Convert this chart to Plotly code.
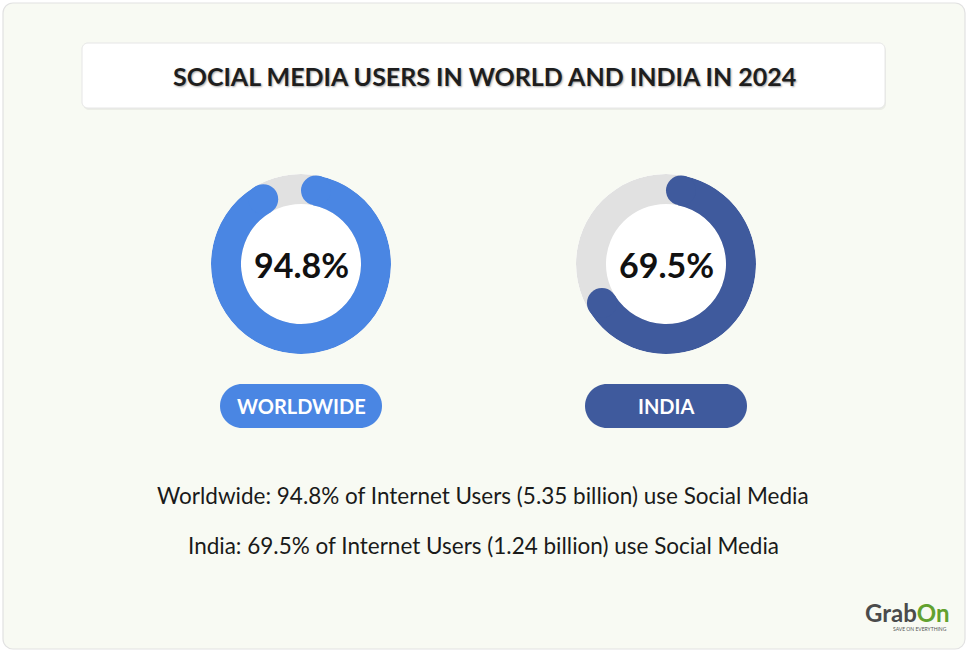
import math
import plotly.graph_objects as go

# ---- data ----
regions = ["WORLDWIDE", "INDIA"]
region_names = ["Worldwide", "India"]
share_pct = [94.8, 69.5]
users_billion = [5.35, 1.24]
arc_colors = ["#4a86e3", "#3f5a9d"]
title_text = "SOCIAL MEDIA USERS IN WORLD AND INDIA IN 2024"

# ---- layout constants (pixels) ----
W, H = 968, 652
centers_x = [301, 666]
center_y = 264
R = 90
HOLE = 0.667
RING_BG = "#e1e1e1"
BG = "#f8faf3"
FONT = "Lato"


def rrect(x0, y0, x1, y1, r):
    k = 0.5523 * r
    return (
        f"M {x0+r},{y0} L {x1-r},{y0} "
        f"C {x1-r+k},{y0} {x1},{y0+r-k} {x1},{y0+r} "
        f"L {x1},{y1-r} "
        f"C {x1},{y1-r+k} {x1-r+k},{y1} {x1-r},{y1} "
        f"L {x0+r},{y1} "
        f"C {x0+r-k},{y1} {x0},{y1-r+k} {x0},{y1-r} "
        f"L {x0},{y0+r} "
        f"C {x0},{y0+r-k} {x0+r-k},{y0} {x0+r},{y0} Z"
    )


fig = go.Figure()

thick = 1 - HOLE
mid = HOLE + thick / 2
cap_ang = math.degrees(math.asin((thick / 2) / mid))

layout_polars = {}
for i, (name, v, col) in enumerate(zip(regions, share_pct, arc_colors)):
    pk = "polar" if i == 0 else f"polar{i+1}"
    cx = centers_x[i]
    layout_polars[pk] = dict(
        domain=dict(x=[(cx - R) / W, (cx + R) / W],
                    y=[1 - (center_y + R) / H, 1 - (center_y - R) / H]),
        bgcolor="white",
        barmode="overlay",
        radialaxis=dict(range=[0, 1], visible=False),
        angularaxis=dict(visible=False, rotation=90, direction="clockwise"),
    )
    # grey track
    fig.add_trace(go.Barpolar(
        r=[thick], base=[HOLE], theta=[180], width=[360],
        marker=dict(color=RING_BG, line=dict(width=0)),
        subplot=pk, hoverinfo="skip", showlegend=False))
    # value arc (rounded ends span exactly the share)
    end_ang = v / 100 * 360
    span = end_ang - 2 * cap_ang
    fig.add_trace(go.Barpolar(
        r=[thick], base=[HOLE], theta=[cap_ang + span / 2], width=[span],
        marker=dict(color=col, line=dict(width=0)),
        subplot=pk, hoverinfo="skip", showlegend=False))
    fig.add_trace(go.Scatterpolar(
        r=[mid, mid], theta=[cap_ang, end_ang - cap_ang], mode="markers",
        marker=dict(size=thick * R, color=col, line=dict(width=0)),
        subplot=pk, hoverinfo="skip", showlegend=False))

shapes = []
annotations = []

# outer card
shapes.append(dict(type="path", path=rrect(3, 3, 965, 649, 10), xref="x", yref="y",
                   fillcolor=BG, line=dict(color="#e2e2e2", width=1.2), layer="below"))
# title box shadow + box
shapes.append(dict(type="path", path=rrect(83, 45, 886, 110, 6), xref="x", yref="y",
                   fillcolor="rgba(0,0,0,0.05)", line=dict(width=0), layer="below"))
shapes.append(dict(type="path", path=rrect(82, 43, 885, 108, 6), xref="x", yref="y",
                   fillcolor="white", line=dict(color="#e6e6e6", width=1), layer="below"))
annotations.append(dict(x=484, y=76, xref="x", yref="y", text=f"<b>{title_text}</b>",
                        showarrow=False,
                        font=dict(family=FONT, size=25, color="#1e1e1e",
                                  shadow="1px 1px 2px rgba(0,0,0,0.35)")))

for i, (name, v, col) in enumerate(zip(regions, share_pct, arc_colors)):
    cx = centers_x[i]
    annotations.append(dict(x=cx, y=center_y, xref="x", yref="y", text=f"<b>{v}%</b>",
                            showarrow=False, font=dict(family=FONT, size=34, color="#111111")))
    shapes.append(dict(type="path", path=rrect(cx - 81, 384, cx + 81, 428, 22), xref="x", yref="y",
                       fillcolor=col, line=dict(width=0), layer="below"))
    annotations.append(dict(x=cx, y=406, xref="x", yref="y", text=f"<b>{name}</b>",
                            showarrow=False, font=dict(family=FONT, size=20, color="white")))

for i, (nm, v, u) in enumerate(zip(region_names, share_pct, users_billion)):
    annotations.append(dict(x=483, y=495 + 50 * i, xref="x", yref="y",
                            text=f"{nm}: {v}% of Internet Users ({u} billion) use Social Media",
                            showarrow=False, font=dict(family=FONT, size=22.5, color="#1a1a1a")))

# logo
annotations.append(dict(x=952, y=612, xref="x", yref="y", xanchor="right",
                        text="<b><span style='color:#4b4b4b'>Grab</span><span style='color:#62a12f'>On</span></b>",
                        showarrow=False, font=dict(family=FONT, size=24)))
annotations.append(dict(x=949, y=629, xref="x", yref="y", xanchor="right",
                        text="SAVE ON EVERYTHING", showarrow=False,
                        font=dict(family=FONT, size=5, color="#555555")))

fig.update_layout(
    width=W, height=H,
    margin=dict(l=0, r=0, t=0, b=0),
    paper_bgcolor="white",
    plot_bgcolor="rgba(0,0,0,0)",
    xaxis=dict(range=[0, W], visible=False, fixedrange=True, domain=[0, 1]),
    yaxis=dict(range=[H, 0], visible=False, fixedrange=True, domain=[0, 1]),
    shapes=shapes,
    annotations=annotations,
    showlegend=False,
    **layout_polars,
)

fig.write_html("out.html", config={"displayModeBar": False},
               post_script="document.body.style.margin='0';")
